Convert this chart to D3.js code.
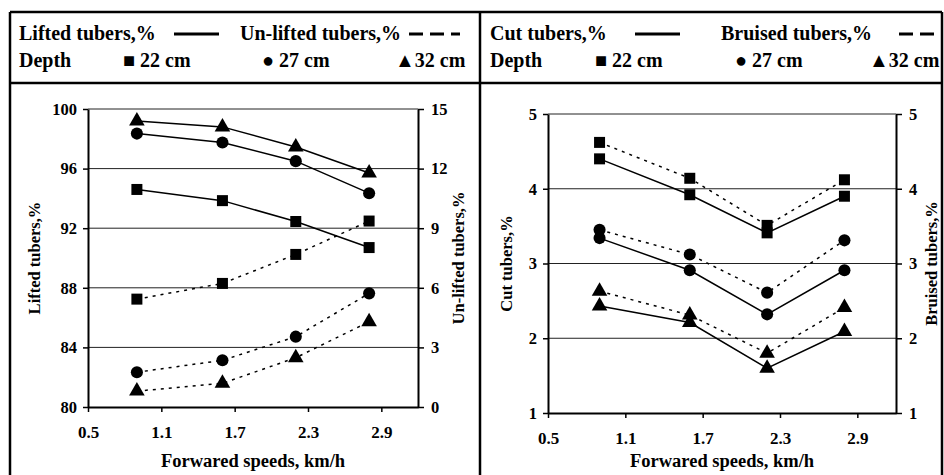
<!DOCTYPE html>
<html><head><meta charset="utf-8">
<script src="https://cdn.jsdelivr.net/npm/d3@7"></script>
<style>
body{margin:0;background:#fff}
text{font-family:"Liberation Serif","Times New Roman",serif;font-weight:bold;fill:#000}
</style></head>
<body><svg id="c" width="944" height="475"></svg>
<script>
// ---- data ----
const speeds = [0.9, 1.6, 2.2, 2.8];
const depths = ["22 cm", "27 cm", "32 cm"];
const xTicks = [0.5, 1.1, 1.7, 2.3, 2.9];
// Left panel
const lifted = [
  [94.6, 93.85, 92.45, 90.7],
  [98.35, 97.75, 96.5, 94.35],
  [99.2, 98.8, 97.45, 95.7]
];
const unlifted = [
  [5.43, 6.22, 7.68, 9.36],
  [1.75, 2.35, 3.54, 5.72],
  [0.8, 1.19, 2.48, 4.29]
];
const liftedTicks = [80, 84, 88, 92, 96, 100];
const unliftedTicks = [0, 3, 6, 9, 12, 15];
// Right panel
const cut = [
  [4.4, 3.92, 3.41, 3.9],
  [3.34, 2.91, 2.32, 2.91],
  [2.43, 2.21, 1.6, 2.09]
];
const bruised = [
  [4.62, 4.14, 3.51, 4.12],
  [3.45, 3.12, 2.61, 3.31],
  [2.63, 2.31, 1.8, 2.41]
];
const cutTicks = [1, 2, 3, 4, 5];

const svg = d3.select("#c");
const symTypes = [d3.symbolSquare, d3.symbolCircle, d3.symbolTriangle];
const symSizes = [121, 115, 105];

// frames
const frame = svg.append("g").attr("fill","none").attr("stroke","#000").attr("stroke-width",2.5);
frame.append("line").attr("x1",10).attr("x2",10).attr("y1",12).attr("y2",480);
frame.append("line").attr("x1",480).attr("x2",480).attr("y1",12).attr("y2",480);
frame.append("line").attr("x1",942).attr("x2",942).attr("y1",12).attr("y2",480);
frame.append("line").attr("x1",10).attr("x2",942).attr("y1",12).attr("y2",12);
frame.append("line").attr("x1",10).attr("x2",942).attr("y1",83).attr("y2",83);

function header(ox, t1, t2x, t2, lineX, dashX, mx) {
  const g = svg.append("g").attr("transform", `translate(${ox},0)`);
  g.append("text").attr("x", 9).attr("y", 40).attr("font-size", 20).text(t1);
  g.append("line").attr("x1", lineX[0]).attr("x2", lineX[1]).attr("y1", 34).attr("y2", 34)
    .attr("stroke", "#000").attr("stroke-width", 3);
  g.append("text").attr("x", t2x).attr("y", 40).attr("font-size", 20).text(t2);
  g.append("line").attr("x1", dashX[0]).attr("x2", dashX[1]).attr("y1", 34).attr("y2", 34)
    .attr("stroke", "#000").attr("stroke-width", 3).attr("stroke-dasharray", "14,7");
  g.append("text").attr("x", 9).attr("y", 67).attr("font-size", 20).text("Depth");
  const marks = ["\u25A0 ", "\u25CF ", "\u25B2"];
  depths.forEach((d, i) => {
    g.append("text").attr("x", mx[i]).attr("y", 67).attr("font-size", 20).text(marks[i] + d);
  });
}
header(10, "Lifted tubers,%", 230, "Un-lifted tubers,%", [164, 209], [399, 450], [113, 252, 385]);
header(481, "Cut tubers,%", 240, "Bruised tubers,%", [154, 199], [418, 454], [114, 254, 388]);

function panel(opt) {
  const x = d3.scaleLinear().domain([0.5, 3.2]).range([opt.x0, opt.x1]);
  const yL = d3.scaleLinear().domain(opt.yLd).range([opt.yb, opt.yt]);
  const yR = d3.scaleLinear().domain(opt.yRd).range([opt.yb, opt.yt]);
  const g = svg.append("g");
  // gridlines
  g.append("g").selectAll("line").data(opt.yLt.slice(1)).join("line")
    .attr("x1", opt.x0).attr("x2", opt.x1).attr("y1", d => yL(d)).attr("y2", d => yL(d))
    .attr("stroke", "#222").attr("stroke-width", 1);
  // axes
  const ax = g.append("g").attr("transform", `translate(0,${opt.yb})`)
    .call(d3.axisBottom(x).tickValues(xTicks).tickFormat(d3.format(".1f")).tickSize(5).tickSizeOuter(0).tickPadding(14));
  const al = g.append("g").attr("transform", `translate(${opt.x0},0)`)
    .call(d3.axisLeft(yL).tickValues(opt.yLt).tickFormat(d3.format("d")).tickSize(5).tickSizeOuter(0).tickPadding(6));
  const ar = g.append("g").attr("transform", `translate(${opt.x1},0)`)
    .call(d3.axisRight(yR).tickValues(opt.yRt).tickFormat(d3.format("d")).tickSize(6).tickSizeOuter(0).tickPadding(7));
  [ax, al, ar].forEach(a => {
    a.select(".domain").attr("stroke", "#000").attr("stroke-width", 2);
    a.selectAll(".tick line").attr("stroke", "#000").attr("stroke-width", 1.5);
    a.selectAll("text").attr("fill", "#000");
    a.attr("font-family", null);
  });
  ax.selectAll("text").attr("font-size", 17);
  al.selectAll("text").attr("font-size", 16.5);
  ar.selectAll("text").attr("font-size", 16.5);
  // titles
  g.append("text").attr("x", (opt.x0 + opt.x1) / 2).attr("y", 467).attr("text-anchor", "middle")
    .attr("font-size", 18.5).text("Forwared speeds, km/h");
  const cy = (opt.yt + opt.yb) / 2;
  g.append("text").attr("transform", `translate(${opt.tl},${cy}) rotate(-90)`).attr("text-anchor", "middle")
    .attr("font-size", 16.5).text(opt.titleL);
  g.append("text").attr("transform", `translate(${opt.tr},${cy}) rotate(-90)`).attr("text-anchor", "middle")
    .attr("font-size", 16.5).text(opt.titleR);
  // series
  function draw(data, y, dashed) {
    data.forEach((vals, i) => {
      const pts = speeds.map((s, j) => [x(s), y(vals[j])]);
      g.append("path").attr("d", d3.line()(pts)).attr("fill", "none").attr("stroke", "#000")
        .attr("stroke-width", 1.5).attr("stroke-dasharray", dashed ? "3,5" : null);
      g.append("g").selectAll("path").data(pts).join("path")
        .attr("transform", d => `translate(${d[0]},${d[1]})`)
        .attr("d", d3.symbol().type(symTypes[i]).size(symSizes[i])).attr("fill", "#000");
    });
  }
  draw(opt.solid, yL, false);
  draw(opt.dashed, yR, true);
}

panel({x0: 88, x1: 418, yt: 109, yb: 407, yLd: [80, 100], yRd: [0, 15], yLt: liftedTicks, yRt: unliftedTicks,
  solid: lifted, dashed: unlifted, titleL: "Lifted tubers,%", titleR: "Un-lifted tubers,%", tl: 40, tr: 464});
panel({x0: 548, x1: 896, yt: 114, yb: 413, yLd: [1, 5], yRd: [1, 5], yLt: cutTicks, yRt: cutTicks,
  solid: cut, dashed: bruised, titleL: "Cut tubers,%", titleR: "Bruised tubers,%", tl: 512, tr: 937});
</script></body></html>
